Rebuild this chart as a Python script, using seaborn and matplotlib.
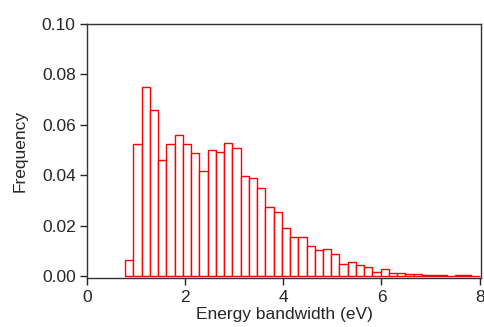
import numpy as np
import pandas as pd
import matplotlib
matplotlib.use("Agg")
import matplotlib.pyplot as plt
import seaborn as sns

# ====== DATA ======
bin_lo = 0.78
bin_hi = 8.0
n_bins = 43
freq = [0.0065, 0.0522, 0.0750, 0.0660, 0.0461, 0.0522, 0.0559, 0.0524,
        0.0489, 0.0416, 0.0501, 0.0491, 0.0526, 0.0508, 0.0398, 0.0390,
        0.0347, 0.0273, 0.0253, 0.0190, 0.0155, 0.0156, 0.0117, 0.0104,
        0.0106, 0.0086, 0.0047, 0.0055, 0.0043, 0.0037, 0.0017, 0.0028,
        0.0012, 0.0012, 0.0008, 0.0008, 0.0004, 0.0005, 0.0005, 0.0001,
        0.0003, 0.0004, 0.0001]
x_ticks = [0, 2, 4, 6, 8]
y_ticks = [0.00, 0.02, 0.04, 0.06, 0.08, 0.10]

edges = np.linspace(bin_lo, bin_hi, n_bins + 1)
centers = (edges[:-1] + edges[1:]) / 2
df = pd.DataFrame({"bandwidth": centers, "freq": freq})

# ====== STYLE ======
sns.set_style("ticks")
plt.rcParams["font.family"] = ["Liberation Sans", "DejaVu Sans"]
plt.rcParams["axes.linewidth"] = 1.0

fig = plt.figure(figsize=(4.85, 3.27), dpi=100)
ax = fig.add_axes([0.179, 0.150, 0.813, 0.777])

sns.histplot(data=df, x="bandwidth", weights="freq", bins=edges.tolist(),
             color="white", edgecolor="red", linewidth=1.0, alpha=1.0, ax=ax)

ax.set_xlim(0, 8.03)
ax.set_ylim(-0.0008, 0.10)
ax.set_xticks(x_ticks)
ax.set_xticklabels([str(t) for t in x_ticks])
ax.set_yticks(y_ticks)
ax.set_yticklabels([f"{t:.2f}" for t in y_ticks])
ax.tick_params(direction="out", length=5, width=1, labelsize=12.5, pad=3)
ax.tick_params(axis="x", pad=4)
for s in ax.spines.values():
    s.set_visible(True)
    s.set_color("#333333")

ax.set_xlabel("Energy bandwidth (eV)", fontsize=12.5, labelpad=1)
ax.set_ylabel("Frequency", fontsize=12.5, labelpad=10)

plt.savefig("out.png", dpi=100)
plt.close()
